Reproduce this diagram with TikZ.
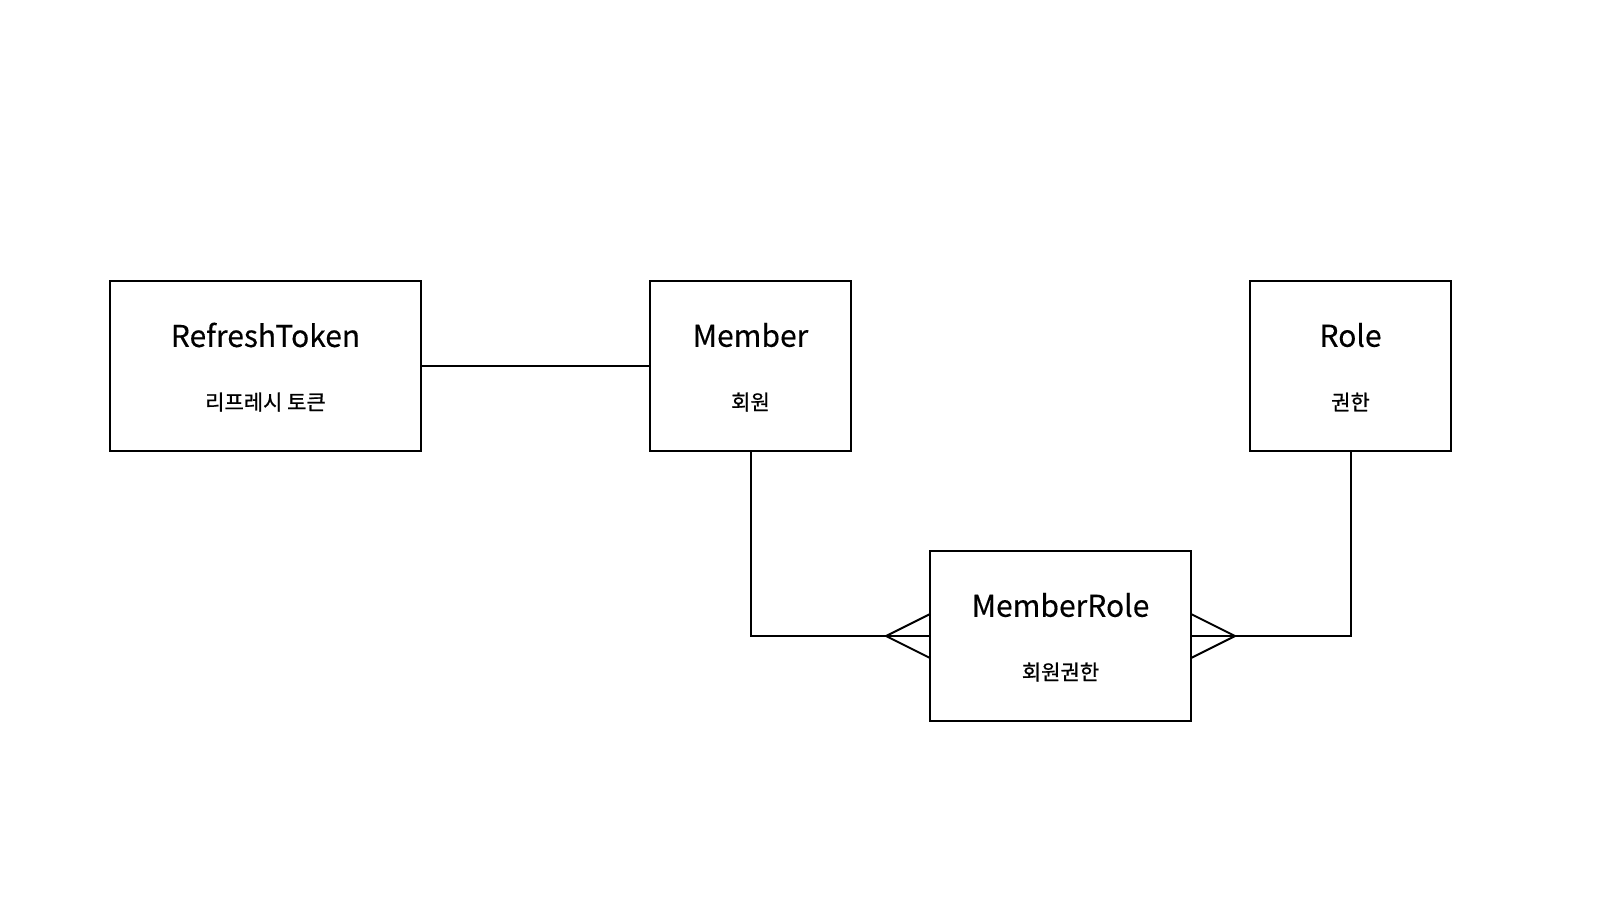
\documentclass[tikz,border=0pt]{standalone}
\usepackage{fontspec}
\setmainfont{Noto Sans CJK KR}
\newfontfamily\subfont[FakeBold=0.9]{Noto Sans CJK KR}
\newfontfamily\ttlfont[FakeBold=0.3]{Noto Sans CJK KR}
\begin{document}
\begin{tikzpicture}[x=0.5pt,y=-0.5pt,
  entity/.style={draw=black, line width=1pt, rectangle, inner sep=0pt, fill=white},
  ttl/.style={font=\ttlfont\fontsize{15pt}{17pt}\selectfont, inner sep=0pt},
  sub/.style={font=\subfont\fontsize{10.5pt}{12pt}\selectfont, inner sep=0pt},
  conn/.style={line width=1pt, draw=black}]
\useasboundingbox[fill=white] (0,0) rectangle (1600,900);
% boxes
\node[entity, minimum width=155.5pt, minimum height=85pt] (rt) at (265.5,366) {};
\node[entity, minimum width=100.5pt, minimum height=85pt] (member) at (750.5,366) {};
\node[entity, minimum width=100.5pt, minimum height=85pt] (role) at (1350.5,366) {};
\node[entity, minimum width=130.5pt, minimum height=85pt] (mr) at (1060.5,636) {};
% texts
\node[ttl] (rtT) at (265.5,335) {RefreshToken};
\node[sub] (rtS) at (265.5,402) {리프레시 토큰};
\node[ttl] (memberT) at (750.5,335) {Member};
\node[sub] (memberS) at (750.5,402) {회원};
\node[ttl] (roleT) at (1350.5,335) {Role};
\node[sub] (roleS) at (1350.5,402) {권한};
\node[ttl] (mrT) at (1060.5,605) {MemberRole};
\node[sub] (mrS) at (1060.5,672) {회원권한};
% coordinates for crow's feet
\coordinate (lcf) at (886,636);
\coordinate (lcfA) at (930,614);
\coordinate (lcfB) at (930,658);
\coordinate (rcf) at (1235,636);
\coordinate (rcfA) at (1191,614);
\coordinate (rcfB) at (1191,658);
% connectors
\draw[conn] (rt.east) -- (member.west);
\draw[conn] (member.south) |- (lcf);
\draw[conn] (lcf) -- (mr.west);
\draw[conn] (lcf) -- (lcfA);
\draw[conn] (lcf) -- (lcfB);
\draw[conn] (role.south) |- (rcf);
\draw[conn] (rcf) -- (mr.east);
\draw[conn] (rcf) -- (rcfA);
\draw[conn] (rcf) -- (rcfB);
\end{tikzpicture}
\end{document}
